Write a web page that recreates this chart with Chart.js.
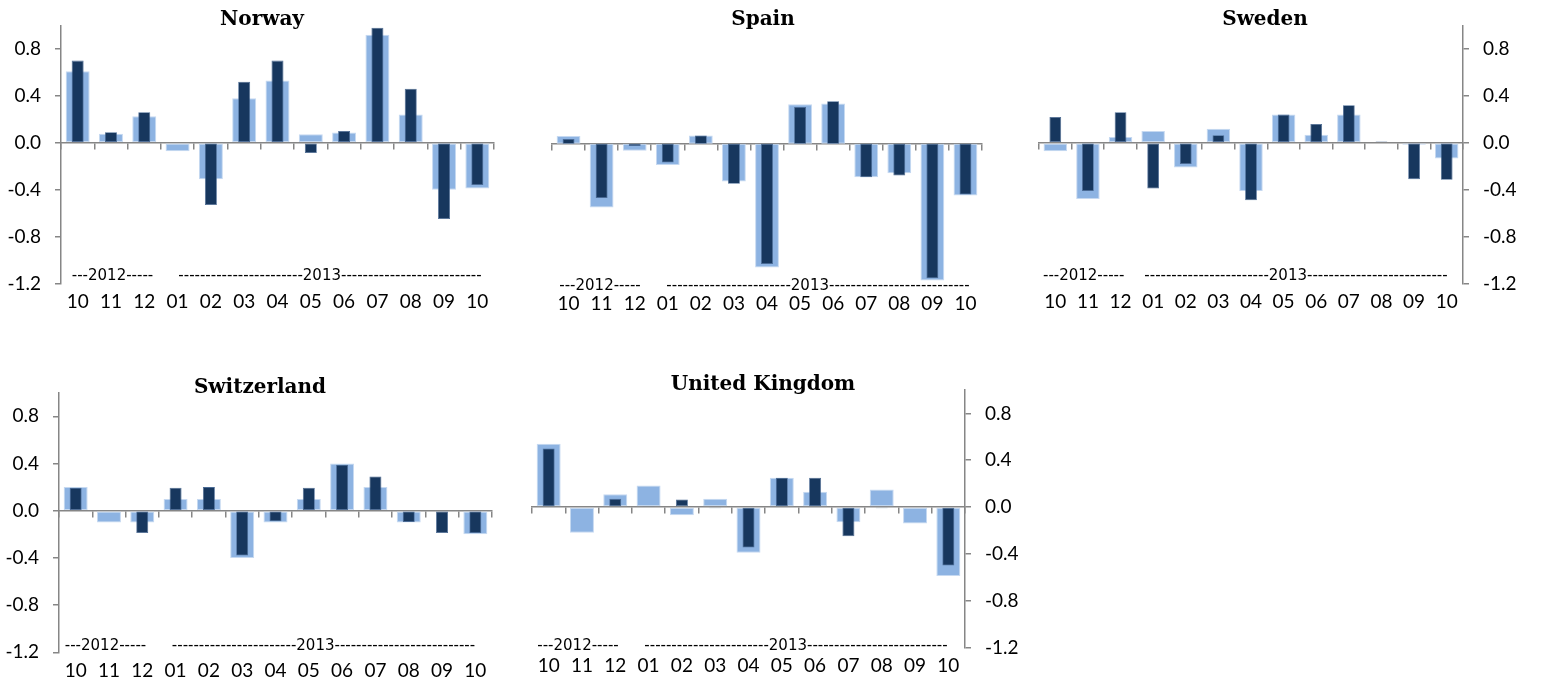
<!DOCTYPE html>
<html><head><meta charset="utf-8">
<script src="https://cdn.jsdelivr.net/npm/chart.js@4"></script>
<style>
html,body{margin:0;padding:0;background:#fff;width:1544px;height:683px;overflow:hidden;position:relative}
canvas{position:absolute}
</style></head><body>
<canvas id="c0"></canvas><canvas id="c1"></canvas><canvas id="c2"></canvas><canvas id="c3"></canvas><canvas id="c4"></canvas>
<script>
// ---- data ----
const months = ['10','11','12','01','02','03','04','05','06','07','08','09','10'];
const yTickValues = [-1.2, -0.8, -0.4, 0.0, 0.4, 0.8];
const yMin = -1.2, yMax = 1.0;
const yearLabels = ['---2012-----', '-----------------------2013--------------------------'];
const titles = ['Norway', 'Spain', 'Sweden', 'Switzerland', 'United Kingdom'];

const norwayLight = [0.61, 0.076, 0.225, -0.073, -0.31, 0.38, 0.53, 0.073, 0.087, 0.92, 0.24, -0.40, -0.39];
const norwayDark  = [0.70, 0.09, 0.26, 0, -0.53, 0.52, 0.70, -0.087, 0.10, 0.98, 0.46, -0.65, -0.36];
const spainLight  = [0.065, -0.54, -0.06, -0.18, 0.07, -0.32, -1.05, 0.335, 0.34, -0.285, -0.25, -1.16, -0.44];
const spainDark   = [0.04, -0.46, -0.02, -0.16, 0.07, -0.34, -1.02, 0.31, 0.36, -0.285, -0.27, -1.14, -0.43];
const swedenLight = [-0.073, -0.48, 0.05, 0.10, -0.21, 0.12, -0.41, 0.24, 0.068, 0.24, 0, -0.017, -0.135];
const swedenDark  = [0.22, -0.41, 0.26, -0.39, -0.18, 0.065, -0.49, 0.24, 0.16, 0.32, 0.01, -0.31, -0.315];
const swissLight  = [0.20, -0.10, -0.10, 0.10, 0.10, -0.40, -0.10, 0.10, 0.40, 0.20, -0.10, 0, -0.20];
const swissDark   = [0.195, 0, -0.19, 0.195, 0.20, -0.38, -0.09, 0.195, 0.39, 0.29, -0.095, -0.19, -0.19];
const ukLight     = [0.54, -0.22, 0.11, 0.185, -0.07, 0.07, -0.39, 0.25, 0.13, -0.13, 0.15, -0.14, -0.59];
const ukDark      = [0.50, 0, 0.07, 0.01, 0.065, -0.01, -0.345, 0.25, 0.25, -0.25, -0.01, -0.005, -0.50];

// ---- styling / layout ----
const GRAY = '#868686';
const LIGHT = '#8DB3E2', LIGHT_EDGE = '#C6D9F1';
const DARK = '#17375E', DARK_EDGE = '#4A6A94';
const TICK_FONT = {family: 'Lato', size: 19};

const panels = [
  {title: titles[0], light: norwayLight, dark: norwayDark, side: 'left',  canvas: [0, 0, 520, 330],    area: [61, 494, 24, 283.6],   titleXY: [262, 20], yearX: [112.5, 330], yearY: 276},
  {title: titles[1], light: spainLight,  dark: spainDark,  side: 'none',  canvas: [520, 0, 500, 330],  area: [552, 982, 25.7, 285.3], titleXY: [763, 20], yearX: [600, 818],   yearY: 286},
  {title: titles[2], light: swedenLight, dark: swedenDark, side: 'right', canvas: [1020, 0, 524, 330], area: [1039, 1463, 24, 283.6], titleXY: [1265, 20], yearX: [1083.7, 1296], yearY: 276},
  {title: titles[3], light: swissLight,  dark: swissDark,  side: 'left',  canvas: [0, 355, 520, 328],  area: [59, 492, 392.7, 652.3], titleXY: [260, 388], yearX: [105.5, 323.5], yearY: 645.7},
  {title: titles[4], light: ukLight,     dark: ukDark,     side: 'right', canvas: [500, 355, 560, 328], area: [532, 965, 390, 647.5], titleXY: [763, 385], yearX: [578, 796], yearY: 645.7}
];

const panelText = {
  id: 'panelText',
  afterDraw(chart, args, o) {
    const ctx = chart.ctx;
    ctx.save();
    ctx.fillStyle = '#000';
    ctx.textAlign = 'center';
    ctx.textBaseline = 'middle';
    ctx.font = 'bold 20px "DejaVu Serif"';
    ctx.fillText(o.title, o.titleX, o.titleY);
    ctx.font = '15px "DejaVu Sans"';
    o.years.forEach((t, i) => ctx.fillText(t, o.yearX[i], o.yearY));
    ctx.restore();
  }
};

panels.forEach((p, idx) => {
  const cv = document.getElementById('c' + idx);
  const [cl, ct, cw, ch] = p.canvas;
  cv.width = cw; cv.height = ch;
  cv.style.left = cl + 'px'; cv.style.top = ct + 'px';
  cv.style.width = cw + 'px'; cv.style.height = ch + 'px';
  const [L, R, T, B] = p.area;
  const xH = 32;
  let yW = 0;
  if (p.side === 'left') yW = L - cl - 2;
  if (p.side === 'right') yW = 70;
  const pad = {top: T - ct, bottom: (ct + ch - B) - xH, left: L - cl, right: (cl + cw) - R};
  if (p.side === 'left') pad.left -= yW;
  if (p.side === 'right') pad.right -= yW;

  new Chart(cv, {
    type: 'bar',
    data: {
      labels: months,
      datasets: [
        {data: p.dark, backgroundColor: DARK, borderColor: DARK_EDGE, borderWidth: 0.8, borderSkipped: false,
         grouped: false, barPercentage: 0.36, categoryPercentage: 1, order: 0, xAxisID: 'x', yAxisID: 'y'},
        {data: p.light, backgroundColor: LIGHT, borderColor: LIGHT_EDGE, borderWidth: 1, borderSkipped: false,
         grouped: false, barPercentage: 0.72, categoryPercentage: 1, order: 1, xAxisID: 'x', yAxisID: 'y'}
      ]
    },
    options: {
      responsive: false,
      animation: false,
      layout: {padding: pad},
      plugins: {
        legend: {display: false},
        tooltip: {enabled: false},
        title: {display: false},
        panelText: {title: p.title, titleX: p.titleXY[0] - cl, titleY: p.titleXY[1] - ct,
                    years: yearLabels, yearX: p.yearX.map(v => v - cl), yearY: p.yearY - ct}
      },
      scales: {
        x: {
          type: 'category', position: {y: 0}, offset: true,
          grid: {offset: true, drawOnChartArea: false, drawTicks: true, tickLength: 6, color: GRAY, lineWidth: 1.5},
          border: {display: true, color: GRAY, width: 1.5},
          ticks: {display: false}
        },
        xl: {
          type: 'category', position: 'bottom', offset: true, labels: months,
          grid: {display: false, drawTicks: false},
          border: {display: false},
          ticks: {padding: 7, font: TICK_FONT, color: '#000', maxRotation: 0, autoSkip: false},
          afterFit(s) { s.height = xH; }
        },
        y: {
          type: 'linear', position: p.side === 'right' ? 'right' : 'left', min: yMin, max: yMax,
          display: p.side !== 'none',
          grid: {drawOnChartArea: false, drawTicks: true, tickLength: 6, color: GRAY, lineWidth: 1.5},
          border: {display: true, color: GRAY, width: 1.5},
          ticks: {padding: 14, font: TICK_FONT, color: '#000', callback: v => v.toFixed(1)},
          afterBuildTicks(s) { s.ticks = yTickValues.map(v => ({value: v})); },
          afterFit(s) { s.width = yW; }
        }
      }
    },
    plugins: [panelText]
  });
});
</script>
</body></html>
